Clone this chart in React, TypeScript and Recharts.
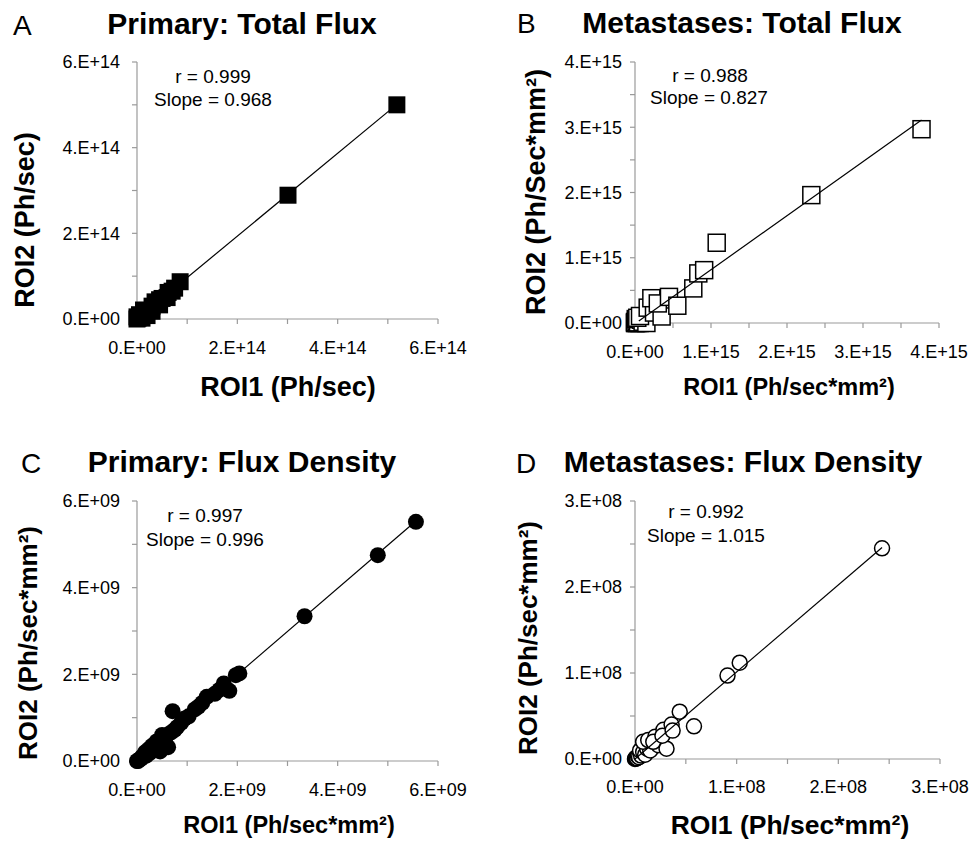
import React from 'react';
import { ScatterChart, Scatter, XAxis, YAxis } from 'recharts';

const FONT = '"Liberation Sans", Arial, Helvetica, sans-serif';

// Panel A: Primary total flux (Ph/sec)
const aRoi1 = [0, 0, 0.02e14, 0.05e14, 0.1e14, 0.13e14, 0.2e14, 0.2e14, 0.3e14, 0.3e14, 0.36e14, 0.45e14, 0.45e14, 0.5e14, 0.6e14, 0.62e14, 0.7e14, 0.75e14, 0.86e14, 3.01e14, 5.18e14];
const aRoi2 = [0, 0.05e14, 0.02e14, 0.1e14, 0.02e14, 0.21e14, 0.08e14, 0.2e14, 0.18e14, 0.3e14, 0.4e14, 0.33e14, 0.45e14, 0.48e14, 0.5e14, 0.62e14, 0.65e14, 0.72e14, 0.87e14, 2.89e14, 5.0e14];
const aTrendX = [0, 5.18e14];
const aTrendY = [0, 5.01e14];
const aTicks = [0, 1e14, 2e14, 3e14, 4e14, 5e14, 6e14];
const aTickLabels = ['0.E+00', '', '2.E+14', '', '4.E+14', '', '6.E+14'];

// Panel B: Metastases total flux
const bRoi1 = [0, 0.005e15, 0.01e15, 0.015e15, 0, 0.03e15, 0.06e15, 0.08e15, 0.12e15, 0.02e15, 0.04e15, 0.01e15, 0.08e15, 0.1e15, 0.15e15, 0.03e15, 0.066e15, 0.167e15, 0.25e15, 0.35e15, 0.215e15, 0.3e15, 0.447e15, 0.557e15, 0.767e15, 0.833e15, 0.91e15, 1.075e15, 2.32e15, 3.77e15];
const bRoi2 = [0, 0.01e15, 0, 0.02e15, 0.015e15, 0, 0, 0.01e15, 0.03e15, 0.03e15, 0.01e15, 0.06e15, 0.05e15, 0.02e15, 0.0e15, 0.08e15, 0.107e15, 0.235e15, 0.16e15, 0.1e15, 0.38e15, 0.3e15, 0.4e15, 0.265e15, 0.53e15, 0.76e15, 0.81e15, 1.23e15, 1.96e15, 2.97e15];
const bTrendX = [0.05e15, 3.77e15];
const bTrendY = [0.03e15, 3.11e15];
const bTicks = [0, 0.5e15, 1e15, 1.5e15, 2e15, 2.5e15, 3e15, 3.5e15, 4e15];
const bTickLabels = ['0.E+00', '', '1.E+15', '', '2.E+15', '', '3.E+15', '', '4.E+15'];

// Panel C: Primary flux density
const cRoi1 = [0, 0.02e9, 0.04e9, 0.08e9, 0.1e9, 0.18e9, 0.16e9, 0.25e9, 0.23e9, 0.3e9, 0.35e9, 0.39e9, 0.45e9, 0.46e9, 0.55e9, 0.5e9, 0.6e9, 0.62e9, 0.68e9, 0.75e9, 0.8e9, 0.88e9, 0.71e9, 0.95e9, 1.03e9, 1.15e9, 1.22e9, 1.3e9, 1.39e9, 1.55e9, 1.64e9, 1.84e9, 1.73e9, 1.97e9, 2.04e9, 3.34e9, 4.8e9, 5.56e9];
const cRoi2 = [0, 0, 0.03e9, 0.05e9, 0.1e9, 0.12e9, 0.2e9, 0.18e9, 0.27e9, 0.35e9, 0.3e9, 0.45e9, 0.45e9, 0.22e9, 0.5e9, 0.6e9, 0.6e9, 0.32e9, 0.66e9, 0.72e9, 0.78e9, 0.88e9, 1.15e9, 0.98e9, 1.03e9, 1.19e9, 1.25e9, 1.34e9, 1.48e9, 1.55e9, 1.64e9, 1.62e9, 1.79e9, 1.98e9, 2.02e9, 3.34e9, 4.75e9, 5.52e9];
const cTrendX = [0, 5.56e9];
const cTrendY = [0, 5.54e9];
const cTicks = [0, 1e9, 2e9, 3e9, 4e9, 5e9, 6e9];
const cTickLabels = ['0.E+00', '', '2.E+09', '', '4.E+09', '', '6.E+09'];

// Panel D: Metastases flux density
const dRoi1 = [0, 0.005e8, 0.01e8, 0.015e8, 0.02e8, 0.03e8, 0.04e8, 0.06e8, 0.05e8, 0.08e8, 0.1e8, 0.12e8, 0.15e8, 0.08e8, 0.13e8, 0.2e8, 0.23e8, 0.18e8, 0.28e8, 0.31e8, 0.27e8, 0.36e8, 0.37e8, 0.58e8, 0.44e8, 0.91e8, 1.03e8, 2.43e8];
const dRoi2 = [0, 0.01e8, 0.005e8, 0.02e8, 0.01e8, 0.03e8, 0.02e8, 0.04e8, 0.1e8, 0.08e8, 0.05e8, 0.12e8, 0.1e8, 0.2e8, 0.22e8, 0.26e8, 0.16e8, 0.2e8, 0.34e8, 0.12e8, 0.27e8, 0.4e8, 0.33e8, 0.38e8, 0.55e8, 0.97e8, 1.12e8, 2.45e8];
const dTrendX = [0, 2.43e8];
const dTrendY = [0, 2.46e8];
const dTicks = [0, 0.5e8, 1e8, 1.5e8, 2e8, 2.5e8, 3e8];
const dTickLabels = ['0.E+00', '', '1.E+08', '', '2.E+08', '', '3.E+08'];

const toPoints = (xs: number[], ys: number[]) => xs.map((x, i) => ({ x, y: ys[i] }));

type Marker = 'filledSquare' | 'openSquare' | 'filledCircle' | 'openCircle';

const makeShape = (marker: Marker, s: number) => (props: any) => {
  const { cx, cy } = props;
  if (cx == null || cy == null) return <g />;
  const filled = marker === 'filledSquare' || marker === 'filledCircle';
  const fill = filled ? '#000' : '#fff';
  const stroke = '#000';
  const sw = filled ? 0 : 1.5;
  if (marker === 'filledSquare' || marker === 'openSquare') {
    return <rect x={cx - s / 2} y={cy - s / 2} width={s} height={s} fill={fill} stroke={stroke} strokeWidth={sw} />;
  }
  return <circle cx={cx} cy={cy} r={s / 2} fill={fill} stroke={stroke} strokeWidth={sw} />;
};

const noShape = () => <g />;

interface PanelProps {
  left: number; top: number; width: number; height: number;
  margin: { top: number; right: number; bottom: number; left: number };
  ticks: number[]; tickLabels: string[];
  xs: number[]; ys: number[]; tx: number[]; ty: number[];
  marker: Marker; size: number;
  xLabel: string; yLabel: string;
  xLabelPos: [number, number]; yLabelPos: [number, number];
  xLabelSize: number; yLabelSize: number;
  yTickMargin: number; xTickMargin: number;
  lineOnTop: boolean;
}

function Panel(p: PanelProps) {
  const pts = toPoints(p.xs, p.ys);
  const trend = toPoints(p.tx, p.ty);
  const max = p.ticks[p.ticks.length - 1];
  const fmt = (v: number) => {
    const i = p.ticks.findIndex((t) => Math.abs(t - v) < max * 1e-6);
    return i >= 0 ? p.tickLabels[i] : '';
  };
  const tickStyle = { fill: '#000', fontSize: 18, fontFamily: FONT };
  const axisStroke = { stroke: '#9a9a9a', strokeWidth: 1.2 };
  const pointSeries = (
    <Scatter key="pts" data={pts} isAnimationActive={false} shape={makeShape(p.marker, p.size)} />
  );
  const lineSeries = (
    <Scatter key="trend" data={trend} isAnimationActive={false} line={{ stroke: '#000', strokeWidth: 1.2 }} shape={noShape} />
  );
  return (
    <div style={{ position: 'absolute', left: p.left, top: p.top }}>
      <ScatterChart width={p.width} height={p.height} margin={p.margin}>
        <XAxis
          type="number"
          dataKey="x"
          domain={[0, max]}
          ticks={p.ticks}
          interval={0}
          tickFormatter={fmt}
          tick={tickStyle}
          tickSize={5}
          tickMargin={p.xTickMargin}
          axisLine={axisStroke}
          tickLine={axisStroke}
          height={60}
          label={() => (
            <text
              x={p.xLabelPos[0]}
              y={p.xLabelPos[1]}
              textAnchor="middle"
              dominantBaseline="central"
              fontFamily={FONT}
              fontWeight="bold"
              fontSize={p.xLabelSize}
              fill="#000"
            >
              {p.xLabel}
            </text>
          )}
        />
        <YAxis
          type="number"
          dataKey="y"
          domain={[0, max]}
          ticks={p.ticks}
          interval={0}
          tickFormatter={fmt}
          tick={tickStyle}
          tickSize={5}
          tickMargin={p.yTickMargin}
          axisLine={axisStroke}
          tickLine={axisStroke}
          width={60}
          label={() => (
            <text
              x={p.yLabelPos[0]}
              y={p.yLabelPos[1]}
              transform={`rotate(-90, ${p.yLabelPos[0]}, ${p.yLabelPos[1]})`}
              textAnchor="middle"
              dominantBaseline="central"
              fontFamily={FONT}
              fontWeight="bold"
              fontSize={p.yLabelSize}
              fill="#000"
            >
              {p.yLabel}
            </text>
          )}
        />
        {p.lineOnTop ? [pointSeries, lineSeries] : [lineSeries, pointSeries]}
      </ScatterChart>
    </div>
  );
}

export default function App() {
  const titleStyle = { fontFamily: FONT, fontWeight: 'bold' as const, fontSize: 30 };
  const letterStyle = { fontFamily: FONT, fontSize: 28 };
  const noteStyle = { fontFamily: FONT, fontSize: 19 };
  return (
    <div style={{ position: 'absolute', left: 0, top: 0, width: 975, height: 842, background: '#fff', fontFamily: FONT }}>
      <Panel
        left={0} top={0} width={480} height={420}
        margin={{ top: 62, right: 42, bottom: 41, left: 77 }}
        ticks={aTicks} tickLabels={aTickLabels}
        xs={aRoi1} ys={aRoi2} tx={aTrendX} ty={aTrendY}
        marker="filledSquare" size={17}
        xLabel="ROI1 (Ph/sec)" yLabel="ROI2 (Ph/sec)"
        xLabelPos={[288, 387]} yLabelPos={[25, 220]}
        xLabelSize={27} yLabelSize={27}
        yTickMargin={12} xTickMargin={17}
        lineOnTop={false}
      />
      <Panel
        left={480} top={0} width={495} height={420}
        margin={{ top: 62, right: 36, bottom: 37, left: 95 }}
        ticks={bTicks} tickLabels={bTickLabels}
        xs={bRoi1} ys={bRoi2} tx={bTrendX} ty={bTrendY}
        marker="openSquare" size={17}
        xLabel="ROI1 (Ph/sec*mm²)" yLabel="ROI2 (Ph/Sec*mm²)"
        xLabelPos={[309, 387]} yLabelPos={[56, 192]}
        xLabelSize={23.5} yLabelSize={27}
        yTickMargin={8} xTickMargin={17}
        lineOnTop={true}
      />
      <Panel
        left={0} top={420} width={480} height={422}
        margin={{ top: 81, right: 42, bottom: 21, left: 77 }}
        ticks={cTicks} tickLabels={cTickLabels}
        xs={cRoi1} ys={cRoi2} tx={cTrendX} ty={cTrendY}
        marker="filledCircle" size={16}
        xLabel="ROI1 (Ph/sec*mm²)" yLabel="ROI2 (Ph/sec*mm²)"
        xLabelPos={[289, 405]} yLabelPos={[28, 223]}
        xLabelSize={23.5} yLabelSize={26}
        yTickMargin={12} xTickMargin={17}
        lineOnTop={false}
      />
      <Panel
        left={480} top={420} width={495} height={422}
        margin={{ top: 81, right: 35, bottom: 23, left: 95 }}
        ticks={dTicks} tickLabels={dTickLabels}
        xs={dRoi1} ys={dRoi2} tx={dTrendX} ty={dTrendY}
        marker="openCircle" size={15}
        xLabel="ROI1 (Ph/sec*mm²)" yLabel="ROI2 (Ph/sec*mm²)"
        xLabelPos={[310, 405]} yLabelPos={[48, 218]}
        xLabelSize={26.5} yLabelSize={26}
        yTickMargin={8} xTickMargin={16}
        lineOnTop={true}
      />
      <svg width={975} height={842} style={{ position: 'absolute', left: 0, top: 0, pointerEvents: 'none' }}>
        <text x={13} y={35} style={letterStyle}>A</text>
        <text x={242} y={34} textAnchor="middle" style={titleStyle}>Primary: Total Flux</text>
        <text x={213} y={83} textAnchor="middle" style={noteStyle}>r = 0.999</text>
        <text x={213} y={106} textAnchor="middle" style={noteStyle}>Slope = 0.968</text>

        <text x={517} y={33} style={letterStyle}>B</text>
        <text x={742} y={33} textAnchor="middle" style={titleStyle}>Metastases: Total Flux</text>
        <text x={710} y={82} textAnchor="middle" style={noteStyle}>r = 0.988</text>
        <text x={709} y={104} textAnchor="middle" style={noteStyle}>Slope = 0.827</text>

        <text x={21} y={473} style={letterStyle}>C</text>
        <text x={242} y={472} textAnchor="middle" style={titleStyle}>Primary: Flux Density</text>
        <text x={205} y={522} textAnchor="middle" style={noteStyle}>r = 0.997</text>
        <text x={205} y={546} textAnchor="middle" style={noteStyle}>Slope = 0.996</text>

        <text x={516} y={473} style={letterStyle}>D</text>
        <text x={743} y={472} textAnchor="middle" style={titleStyle}>Metastases: Flux Density</text>
        <text x={706} y={518} textAnchor="middle" style={noteStyle}>r = 0.992</text>
        <text x={706} y={542} textAnchor="middle" style={noteStyle}>Slope = 1.015</text>
      </svg>
    </div>
  );
}
